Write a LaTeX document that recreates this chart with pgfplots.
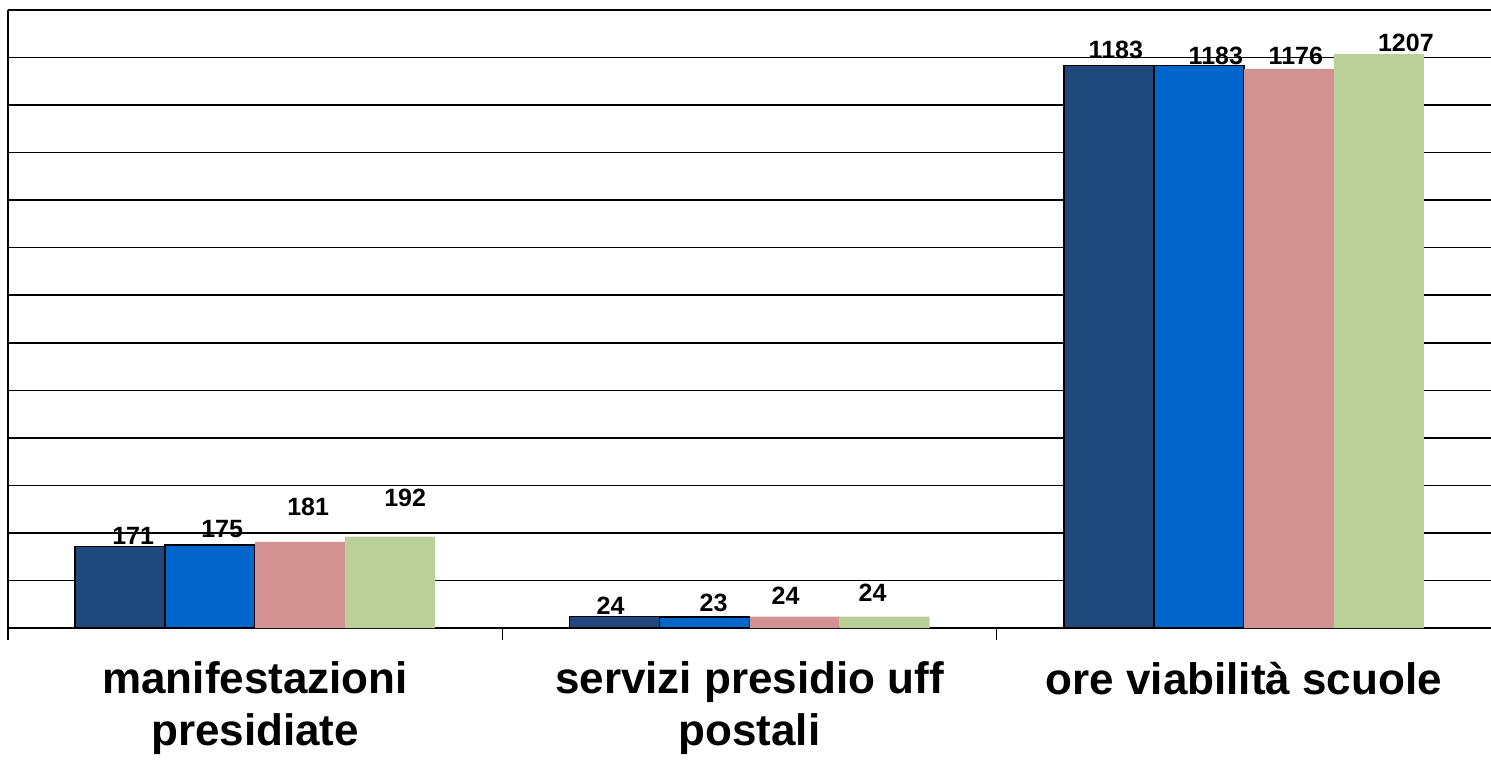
\documentclass[border=0pt]{standalone}
\usepackage{pgfplots}
\pgfplotsset{compat=1.18}
\usepackage{pgfplotstable}
\usepackage{fontspec}
\setmainfont{Liberation Sans}
\definecolor{cnavy}{RGB}{31,73,125}
\definecolor{cblue}{RGB}{0,102,204}
\definecolor{cpink}{RGB}{210,146,146}
\definecolor{cgreen}{RGB}{187,207,152}

\pgfplotstableread{
x y dx dy
0 171 6.5 5.5
1 24 -2 5.5
2 1183 3.5 8
}\seriesA
\pgfplotstableread{
x y dx dy
0 175 6 8
1 23 4.5 7
2 1183 8.5 5
}\seriesB
\pgfplotstableread{
x y dx dy
0 181 4 17.5
1 24 -4.5 10.5
2 1176 3.5 6.5
}\seriesC
\pgfplotstableread{
x y dx dy
0 192 7.5 19.5
1 24 -6 12
2 1207 13.5 5.5
}\seriesD

\begin{document}
\begin{tikzpicture}
\begin{axis}[
  at={(0,0)}, anchor=south west,
  scale only axis, width=741.5pt, height=309pt,
  xmin=-0.5, xmax=2.5, ymin=0, ymax=1300,
  ybar=0pt, bar width=45pt,
  axis x line*=bottom, axis y line*=left,
  axis line style={line width=1.1pt, black, -},
  ytick distance=100, yticklabels={},
  ymajorgrids, grid style={black, line width=0.8pt},
  y tick style={draw=none},
  xtick={-0.5,0.5,1.5}, xticklabels={},
  x tick style={black, line width=0.8pt},
  tick align=outside, major tick length=6pt,
  extra x ticks={0,1,2},
  extra x tick labels={manifestazioni\\presidiate, servizi presidio uff\\postali, ore viabilità scuole},
  extra x tick style={major tick length=0pt, tick style={draw=none},
    tick label style={font=\fontsize{22}{26}\selectfont\bfseries, align=center, yshift=-13.5pt}},
  /pgf/number format/1000 sep={},
  /pgf/number format/assume math mode=true,
  nodes near coords,
  visualization depends on={\thisrow{dx} \as \dx},
  visualization depends on={\thisrow{dy} \as \dy},
  nodes near coords style={font=\fontsize{12.5}{13}\selectfont\bfseries, anchor=center, xshift={\dx*1pt}, yshift={\dy*1pt}, text=black},
]
\addplot[fill=cnavy, draw=black, line width=0.7pt] table[x=x,y=y] {\seriesA};
\addplot[fill=cblue, draw=black, line width=0.7pt] table[x=x,y=y] {\seriesB};
\addplot[fill=cpink, draw=none] table[x=x,y=y] {\seriesC};
\addplot[fill=cgreen, draw=none] table[x=x,y=y] {\seriesD};
\end{axis}
\pgfresetboundingbox
\useasboundingbox (-4pt,-65.5pt) rectangle (741.5pt,314pt);
\end{tikzpicture}
\end{document}
